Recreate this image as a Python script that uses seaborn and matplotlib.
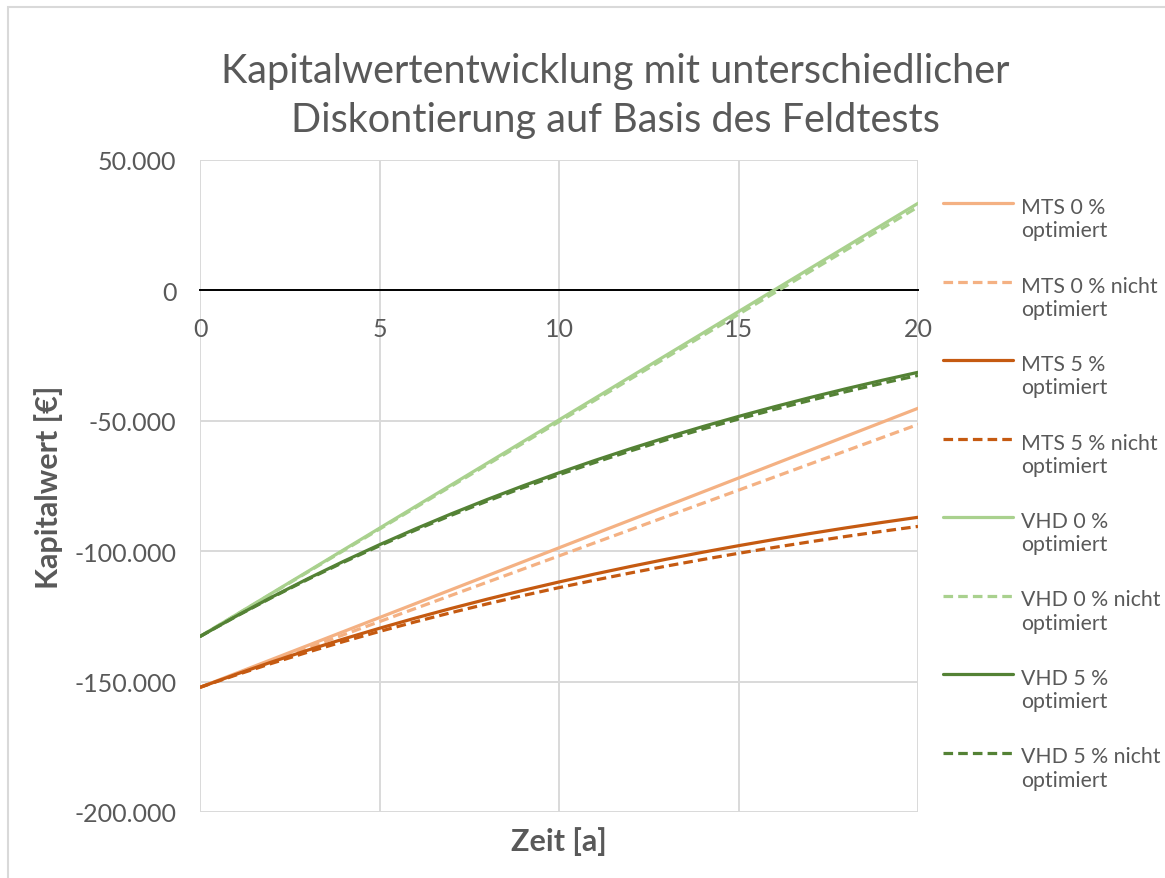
import numpy as np
import pandas as pd
import matplotlib
matplotlib.use("Agg")
import matplotlib.pyplot as plt
from matplotlib.lines import Line2D
from matplotlib.legend_handler import HandlerLine2D
from matplotlib.patches import Rectangle
import seaborn as sns

# ---- data -------------------------------------------------------------
years = list(range(21))

mts_0_opt = [-152200, -146850, -141500, -136150, -130800, -125450, -120100, -114750,
             -109400, -104050, -98700, -93350, -88000, -82650, -77300, -71950,
             -66600, -61250, -55900, -50550, -45200]
mts_0_nopt = [-152200, -147160, -142120, -137080, -132040, -127000, -121960, -116920,
              -111880, -106840, -101800, -96760, -91720, -86680, -81640, -76600,
              -71560, -66520, -61480, -56440, -51400]
mts_5_opt = [-152200, -147220, -142470, -137950, -133650, -129550, -125640, -121930,
             -118390, -115010, -111800, -108740, -105830, -103050, -100410, -97890,
             -95500, -93210, -91040, -88970, -87000]
mts_5_nopt = [-152200, -147490, -142990, -138720, -134640, -130770, -127070, -123550,
              -120200, -117010, -113970, -111080, -108320, -105690, -103190, -100810,
              -98540, -96380, -94320, -92370, -90500]
vhd_0_opt = [-132700, -124400, -116090, -107790, -99480, -91180, -82870, -74570,
             -66260, -57960, -49650, -41350, -33040, -24740, -16430, -8130,
             180, 8490, 16790, 25100, 33400]
vhd_0_nopt = [-132700, -124470, -116230, -108000, -99760, -91530, -83290, -75060,
              -66820, -58590, -50350, -42120, -33880, -25650, -17410, -9180,
              -940, 7300, 15530, 23770, 32000]
vhd_5_opt = [-132700, -124960, -117590, -110570, -103880, -97510, -91450, -85670,
             -80170, -74930, -69940, -65190, -60660, -56350, -52240, -48330,
             -44610, -41060, -37690, -34470, -31410]
vhd_5_nopt = [-132700, -125050, -117770, -110830, -104220, -97930, -91930, -86220,
              -80790, -75610, -70680, -65980, -61510, -57250, -53190, -49330,
              -45650, -42150, -38810, -35630, -32600]

series_names = ["MTS 0 % optimiert", "MTS 0 % nicht optimiert",
                "MTS 5 % optimiert", "MTS 5 % nicht optimiert",
                "VHD 0 % optimiert", "VHD 0 % nicht optimiert",
                "VHD 5 % optimiert", "VHD 5 % nicht optimiert"]
series_values = [mts_0_opt, mts_0_nopt, mts_5_opt, mts_5_nopt,
                 vhd_0_opt, vhd_0_nopt, vhd_5_opt, vhd_5_nopt]
legend_labels = ["MTS 0 %\noptimiert", "MTS 0 % nicht\noptimiert",
                 "MTS 5 %\noptimiert", "MTS 5 % nicht\noptimiert",
                 "VHD 0 %\noptimiert", "VHD 0 % nicht\noptimiert",
                 "VHD 5 %\noptimiert", "VHD 5 % nicht\noptimiert"]

y_ticks = [50000, 0, -50000, -100000, -150000, -200000]
y_tick_labels = ["50.000", "0", "-50.000", "-100.000", "-150.000", "-200.000"]
x_ticks = [0, 5, 10, 15, 20]

title = "Kapitalwertentwicklung mit unterschiedlicher\nDiskontierung auf Basis des Feldtests"
x_label = "Zeit [a]"
y_label = "Kapitalwert [€]"

# ---- styling ----------------------------------------------------------
colors = ["#F4B183", "#F4B183", "#C55A11", "#C55A11",
          "#A9D18E", "#A9D18E", "#548235", "#548235"]
palette = dict(zip(series_names, colors))
dashes = {n: ("" if i % 2 == 0 else (3, 1.6)) for i, n in enumerate(series_names)}
text_grey = "#595959"
grid_grey = "#D9D9D9"

sns.set_theme(style="white")
plt.rcParams["font.family"] = ["Lato", "DejaVu Sans"]

df = pd.concat(
    [pd.DataFrame({"Jahr": years, "Kapitalwert": vals, "Serie": name})
     for name, vals in zip(series_names, series_values)],
    ignore_index=True,
)

fig = plt.figure(figsize=(11.65, 8.79), dpi=100)
ax = fig.add_axes([200 / 1165, 1 - 813 / 879, 718 / 1165, 652 / 879])

sns.lineplot(data=df, x="Jahr", y="Kapitalwert", hue="Serie", style="Serie",
             hue_order=series_names, style_order=series_names,
             palette=palette, dashes=dashes, linewidth=2.3, ax=ax,
             legend=True, zorder=3)

ax.set_xlim(0, 20)
ax.set_ylim(-200000, 50000)
ax.set_yticks(y_ticks)
ax.set_yticklabels(y_tick_labels)
ax.set_xticks(x_ticks)
ax.set_xticklabels([str(v) for v in x_ticks])

ax.grid(True, color=grid_grey, linewidth=1.4, zorder=0)
for side in ["top", "right", "left"]:
    ax.spines[side].set_visible(False)
ax.spines["bottom"].set_position(("data", 0))
ax.spines["bottom"].set_color("black")
ax.spines["bottom"].set_linewidth(1.4)
ax.spines["bottom"].set_zorder(2)

ax.tick_params(axis="both", length=0, colors=text_grey, labelsize=18)
ax.tick_params(axis="x", pad=19)
ax.tick_params(axis="y", pad=17)

ax.set_xlabel(x_label, fontsize=22, fontweight="bold", color=text_grey)
ax.set_ylabel(y_label, fontsize=22, fontweight="bold", color=text_grey)
ax.xaxis.set_label_coords(0.5, -0.022)
ax.yaxis.set_label_coords(-0.191, 0.5)

fig.text(615 / 1165, 1 - 96 / 879, title, ha="center", va="center",
         fontsize=28.5, color=text_grey, linespacing=1.42)


class FirstLineHandler(HandlerLine2D):
    """Legend handle aligned with the first line of a two-line label."""

    def __init__(self, shift=0.75, **kw):
        super().__init__(**kw)
        self.shift = shift

    def create_artists(self, legend, orig_handle, xdescent, ydescent, width,
                       height, fontsize, trans):
        artists = super().create_artists(legend, orig_handle, xdescent, ydescent,
                                         width, height, fontsize, trans)
        for a in artists:
            if isinstance(a, Line2D):
                a.set_ydata(np.asarray(a.get_ydata(), dtype=float)
                            + self.shift * fontsize)
        return artists


handles, labels = ax.get_legend_handles_labels()
ax.get_legend().remove()
leg = fig.legend(handles, legend_labels, loc="upper left",
                 bbox_to_anchor=(924 / 1165, 1 - 179 / 879),
                 frameon=False, fontsize=15.3, labelcolor=text_grey,
                 handlelength=3.3, handletextpad=0.35, labelspacing=1.66,
                 handler_map={Line2D: FirstLineHandler()})

fig.patches.append(Rectangle((8 / 1165, -0.2), 1.5, 1.2 - 8 / 879,
                             transform=fig.transFigure, fill=False,
                             edgecolor=grid_grey, linewidth=1.5))

fig.savefig("out.png", dpi=100)
